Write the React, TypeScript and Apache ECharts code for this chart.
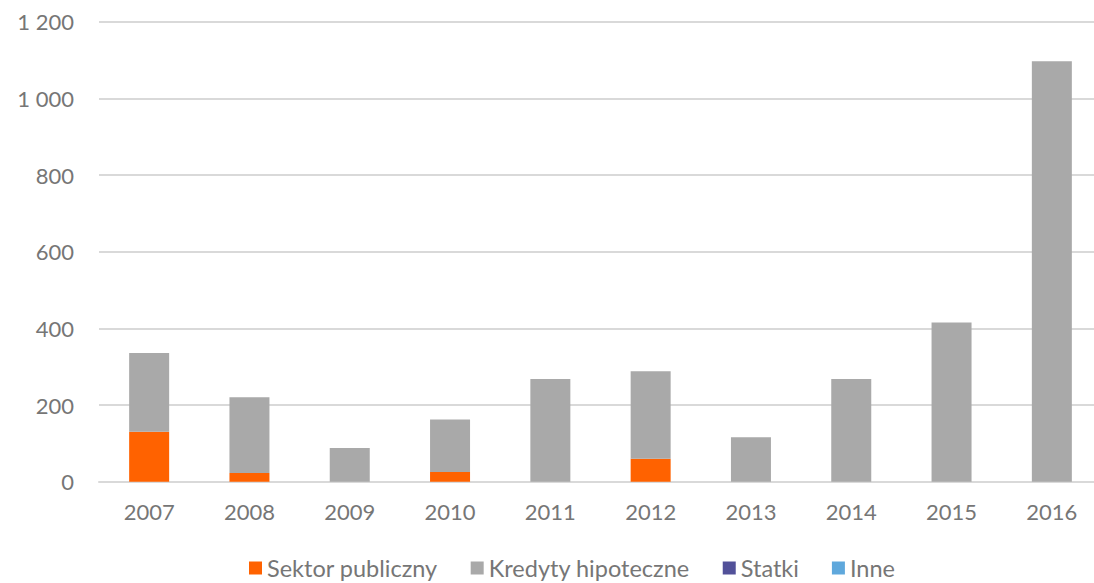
import React, { useEffect, useRef } from "react";
import * as echarts from "echarts";

const years = ["2007", "2008", "2009", "2010", "2011", "2012", "2013", "2014", "2015", "2016"];
const sektorPubliczny = [130, 23, 0, 25, 0, 60, 0, 0, 0, 0];
const kredytyHipoteczne = [206, 197, 88, 137, 268, 228, 116, 268, 415, 1097];
const statki = [0, 0, 0, 0, 0, 0, 0, 0, 0, 0];
const inne = [0, 0, 0, 0, 0, 0, 0, 0, 0, 0];

const FONT = "Lato";
const TEXT = "#767676";

export default function App() {
  const ref = useRef<HTMLDivElement>(null);
  useEffect(() => {
    document.body.style.margin = "0";
    document.body.style.overflow = "hidden";
    const chart = echarts.init(ref.current!, undefined, { renderer: "svg" });
    const mk = (name: string, data: number[], color: string) => ({
      name,
      type: "bar",
      stack: "total",
      data,
      barWidth: 40,
      itemStyle: { color },
    });
    chart.setOption({
      animation: false,
      textStyle: { fontFamily: FONT },
      grid: { left: 99, right: 0, top: 21.7, bottom: 101.3, containLabel: false },
      legend: {
        left: 244,
        top: 551,
        itemWidth: 13,
        itemHeight: 13,
        itemGap: 33,
        icon: "rect",
        textStyle: { color: TEXT, fontSize: 23.5, fontFamily: FONT, padding: [0, 0, 0, 0] },
        data: ["Sektor publiczny", "Kredyty hipoteczne", "Statki", "Inne"],
      },
      xAxis: {
        type: "category",
        data: years,
        axisTick: { show: false },
        axisLine: { lineStyle: { color: "#d9d9d9", width: 2 } },
        axisLabel: { color: TEXT, fontSize: 22, margin: 19, fontFamily: FONT },
      },
      yAxis: {
        type: "value",
        min: 0,
        max: 1200,
        interval: 200,
        axisLine: { show: false },
        axisTick: { show: false },
        splitLine: { lineStyle: { color: "#d9d9d9", width: 2 } },
        axisLabel: {
          color: TEXT,
          fontSize: 22,
          margin: 25,
          fontFamily: FONT,
          formatter: (v: number) => String(v).replace(/\B(?=(\d{3})+(?!\d))/g, " "),
        },
      },
      series: [
        mk("Sektor publiczny", sektorPubliczny, "#FF6200"),
        mk("Kredyty hipoteczne", kredytyHipoteczne, "#A9A9A9"),
        mk("Statki", statki, "#525199"),
        mk("Inne", inne, "#5FA8DC"),
      ],
    });
    return () => chart.dispose();
  }, []);
  return (
    <div style={{ position: "absolute", left: 0, top: 0, width: 1094, height: 583, overflow: "hidden" }}>
      <div ref={ref} style={{ position: "absolute", left: 0, top: 0, width: 1102, height: 583 }} />
    </div>
  );
}
